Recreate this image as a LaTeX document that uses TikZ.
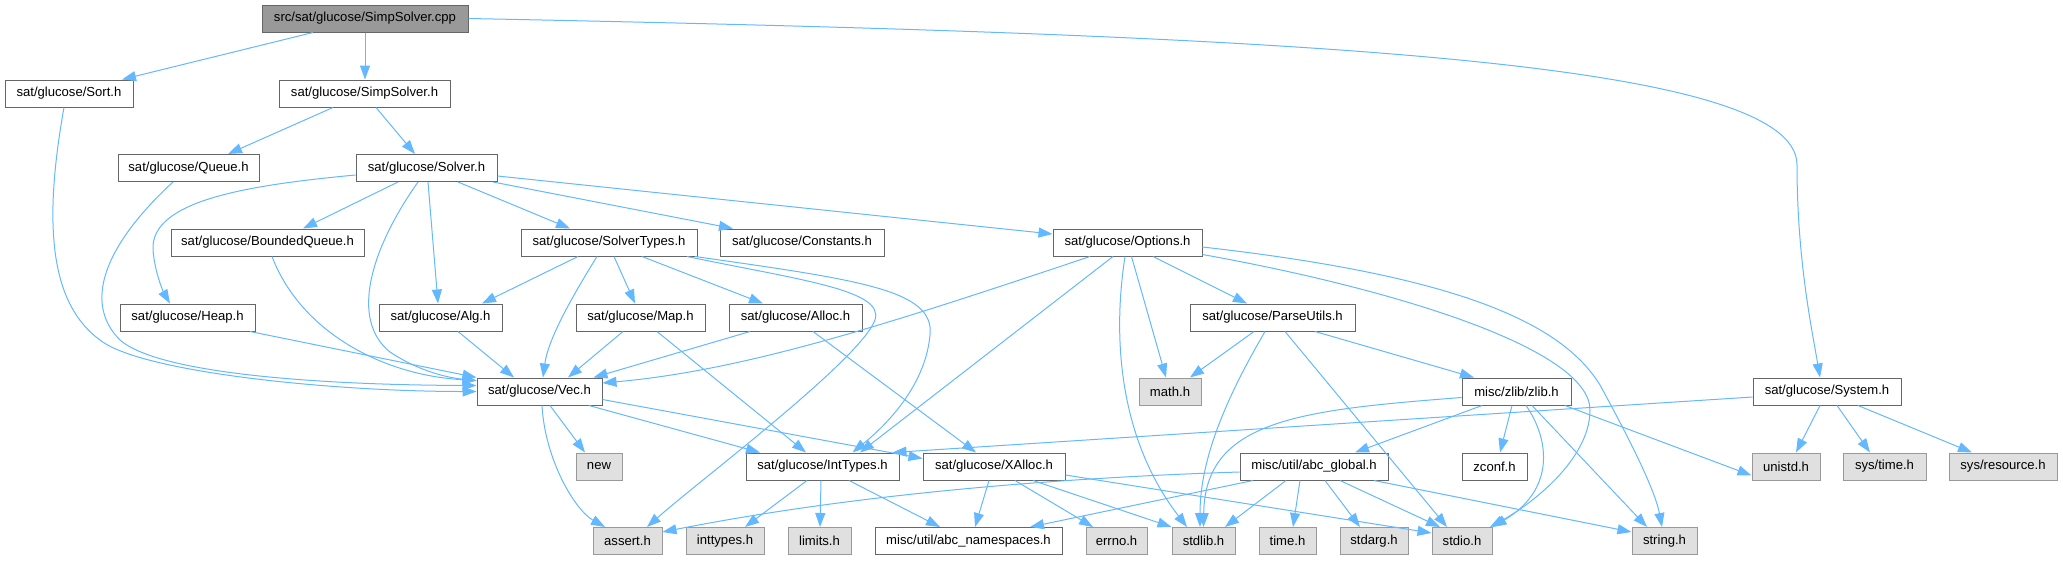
\documentclass[tikz,border=0pt]{standalone}
\usepackage{fontspec}
\setmainfont{Liberation Sans}
\usetikzlibrary{arrows.meta}
\definecolor{edgeblue}{HTML}{63B8FF}
\definecolor{rootfill}{HTML}{999999}
\definecolor{boxline}{HTML}{666666}
\definecolor{extfill}{HTML}{E0E0E0}
\definecolor{extline}{HTML}{999999}
\tikzset{
  box/.style={draw=boxline, fill=white, line width=1pt, rectangle, inner sep=0pt,
    minimum height=27pt, font=\fontsize{13.1pt}{15pt}\selectfont, text=black},
  root/.style={box, fill=rootfill},
  ext/.style={box, draw=extline, fill=extfill},
  edge/.style={draw=edgeblue, line width=1pt, -{Triangle[length=14pt,width=10pt]}}
}
\begin{document}
\begin{tikzpicture}[x=1pt,y=-1pt]
\useasboundingbox (0,0) rectangle (2063,560);
% row 1
\node[root, minimum width=206pt] (cpp) at (365,18.5) {src/sat/glucose/SimpSolver.cpp};
% row 2
\node[box, minimum width=128pt] (sort) at (69,93.5) {sat/glucose/Sort.h};
\node[box, minimum width=171pt] (simph) at (364.5,93.5) {sat/glucose/SimpSolver.h};
% row 3
\node[box, minimum width=141pt] (queue) at (188.5,168) {sat/glucose/Queue.h};
\node[box, minimum width=141pt] (solver) at (426.5,168) {sat/glucose/Solver.h};
% row 4
\node[box, minimum width=193pt] (bq) at (267.5,242.5) {sat/glucose/BoundedQueue.h};
\node[box, minimum width=176pt] (soltypes) at (609,242.5) {sat/glucose/SolverTypes.h};
\node[box, minimum width=164pt] (const) at (802,242.5) {sat/glucose/Constants.h};
\node[box, minimum width=149pt] (options) at (1127.5,242.5) {sat/glucose/Options.h};
% row 5
\node[box, minimum width=135pt] (heap) at (187.5,317.5) {sat/glucose/Heap.h};
\node[box, minimum width=123pt] (alg) at (440.5,317.5) {sat/glucose/Alg.h};
\node[box, minimum width=129pt] (map) at (640.5,317.5) {sat/glucose/Map.h};
\node[box, minimum width=133pt] (alloc) at (795.5,317.5) {sat/glucose/Alloc.h};
\node[box, minimum width=165pt] (parse) at (1272.5,317.5) {sat/glucose/ParseUtils.h};
% row 6
\node[box, minimum width=125pt] (vec) at (539.5,391.5) {sat/glucose/Vec.h};
\node[ext, minimum width=62pt] (math) at (1170,391.5) {math.h};
\node[box, minimum width=109pt] (zlib) at (1516.5,391.5) {misc/zlib/zlib.h};
\node[box, minimum width=148pt] (system) at (1827,391.5) {sat/glucose/System.h};
% row 7
\node[ext, minimum width=46pt] (new) at (599,466.5) {new};
\node[box, minimum width=153pt] (intT) at (822.5,466.5) {sat/glucose/IntTypes.h};
\node[box, minimum width=142pt] (xalloc) at (994,466.5) {sat/glucose/XAlloc.h};
\node[box, minimum width=148pt] (abcglobal) at (1314,466.5) {misc/util/abc\_global.h};
\node[box, minimum width=65pt] (zconf) at (1494.5,466.5) {zconf.h};
\node[ext, minimum width=68pt] (unistd) at (1786,466.5) {unistd.h};
\node[ext, minimum width=83pt] (systime) at (1884.5,466.5) {sys/time.h};
\node[ext, minimum width=108pt] (sysres) at (2003,466.5) {sys/resource.h};
% row 8
\node[ext, minimum width=69pt] (assert) at (627.5,541) {assert.h};
\node[ext, minimum width=78pt] (inttypes) at (725,541) {inttypes.h};
\node[ext, minimum width=63pt] (limits) at (819.5,541) {limits.h};
\node[box, minimum width=187pt] (abcns) at (968.5,541) {misc/util/abc\_namespaces.h};
\node[ext, minimum width=61pt] (errno) at (1116.5,541) {errno.h};
\node[ext, minimum width=63pt] (stdlib) at (1203.5,541) {stdlib.h};
\node[ext, minimum width=57pt] (time) at (1287.5,541) {time.h};
\node[ext, minimum width=68pt] (stdarg) at (1374,541) {stdarg.h};
\node[ext, minimum width=60pt] (stdio) at (1462,541) {stdio.h};
\node[ext, minimum width=65pt] (string) at (1664.5,541) {string.h};

% edges from cpp
\draw[edge] ([xshift=-52pt]cpp.south) -- ([xshift=53pt]sort.north);
\draw[edge] (cpp.south) -- (cpp.south |- simph.north);
\draw[edge] (cpp.east) .. controls (1300,35) and (1797,60) .. (1797,165) .. controls (1797,260) and (1812,330) .. ([xshift=-7pt]system.north);
% sort, simpsolver.h, queue
\draw[edge] ([xshift=-5pt]sort.south) .. controls (42,230) and (52,305) .. (100,340) .. controls (140,372) and (330,391.5) .. (vec.west);
\draw[edge] ([xshift=-31.5pt]simph.south) -- ([xshift=39.5pt]queue.north);
\draw[edge] ([xshift=11.5pt]simph.south) -- ([xshift=-11.5pt]solver.north);
\draw[edge] ([xshift=-15.5pt]queue.south) .. controls (110,240) and (80,300) .. (120,340) .. controls (160,375) and (330,385) .. ([yshift=6pt]vec.west);
% solver
\draw[edge] ([yshift=-7pt]solver.west) .. controls (250,185) and (150,200) .. (153,250) .. controls (155,275) and (165,295) .. ([xshift=-17.5pt]heap.north);
\draw[edge] ([xshift=-8.5pt]solver.south) .. controls (370,250) and (350,320) .. (390,352) .. controls (420,372) and (450,378) .. ([yshift=11pt]vec.west);
\draw[edge] ([xshift=1.5pt]solver.south) -- ([xshift=-2.5pt]alg.north);
\draw[edge] ([yshift=-8pt]solver.east) -- ([yshift=8.5pt]options.west);
\draw[edge] ([xshift=31.5pt]solver.south) -- ([xshift=-39pt]soltypes.north);
\draw[edge] ([xshift=-28.5pt]solver.south) -- ([xshift=35.5pt]bq.north);
\draw[edge] ([xshift=66.5pt]solver.south) -- ([xshift=-69pt]const.north);
% solvertypes
\draw[edge] ([xshift=78pt]soltypes.south) .. controls (800,280) and (885,290) .. (875,320) .. controls (860,360) and (700,480) .. ([xshift=19.5pt]assert.north);
\draw[edge] ([xshift=86pt]soltypes.south) .. controls (860,280) and (935,290) .. (930,335) .. controls (925,390) and (880,430) .. ([xshift=30pt]intT.north);
\draw[edge] ([xshift=-31pt]soltypes.south) -- ([xshift=41.5pt]alg.north);
\draw[edge] ([xshift=5pt]soltypes.south) -- ([xshift=-5.5pt]map.north);
\draw[edge] ([xshift=33pt]soltypes.south) -- ([xshift=-32.5pt]alloc.north);
\draw[edge] ([xshift=-12pt]soltypes.south) .. controls (570,300) and (548,340) .. ([xshift=3.5pt]vec.north);
% map, alloc, alg, heap, bq
\draw[edge] ([xshift=16.5pt]map.south) -- ([xshift=-16.5pt]intT.north);
\draw[edge] ([xshift=-17.5pt]map.south) -- ([xshift=28.5pt]vec.north);
\draw[edge] ([xshift=17.5pt]alloc.south) -- ([xshift=-18pt]xalloc.north);
\draw[edge] ([xshift=-45.5pt]alloc.south) -- ([xshift=54pt]vec.north);
\draw[edge] ([xshift=17.5pt]alg.south) -- ([xshift=-25.5pt]vec.north);
\draw[edge] ([xshift=62.5pt]heap.south) -- (vec.north west);
\draw[edge] ([xshift=4.5pt]bq.south) .. controls (300,330) and (380,375) .. ([yshift=11pt]vec.west);
% vec
\draw[edge] ([xshift=2.5pt]vec.south) .. controls (545,460) and (575,510) .. ([xshift=-22.5pt]assert.north);
\draw[edge] ([xshift=10.5pt]vec.south) -- ([xshift=-14pt]new.north);
\draw[edge] ([xshift=49.5pt]vec.south) -- ([xshift=-62.5pt]intT.north);
\draw[edge] ([yshift=-8pt]vec.east) -- ([yshift=8pt]xalloc.west);
% inttypes
\draw[edge] ([xshift=-15.5pt]intT.south) -- ([xshift=20pt]inttypes.north);
\draw[edge] ([xshift=-1.5pt]intT.south) -- ([xshift=0.5pt]limits.north);
\draw[edge] ([xshift=26.5pt]intT.south) -- ([xshift=-28.5pt]abcns.north);
% xalloc
\draw[edge] ([xshift=-5pt]xalloc.south) -- ([xshift=6.5pt]abcns.north);
\draw[edge] ([xshift=21pt]xalloc.south) -- ([xshift=-23.5pt]errno.north);
\draw[edge] ([xshift=39pt]xalloc.south) -- (stdlib.north west);
\draw[edge] ([yshift=-8.5pt]xalloc.east) -- ([yshift=8pt]stdio.west);
% options
\draw[edge] ([xshift=-37.5pt]options.south) .. controls (900,320) and (750,370) .. ([yshift=8.5pt]vec.east);
\draw[edge] ([xshift=-14.5pt]options.south) -- ([xshift=37.5pt]intT.north);
\draw[edge] ([xshift=-2.5pt]options.south) .. controls (1112,340) and (1120,440) .. ([xshift=-16.5pt]stdlib.north);
\draw[edge] ([xshift=4pt]options.south) -- ([xshift=-4pt]math.north);
\draw[edge] ([xshift=25.5pt]options.south) -- ([xshift=-25.5pt]parse.north);
\draw[edge] ([yshift=-4.5pt]options.east) .. controls (1450,275) and (1560,320) .. (1600,385) .. controls (1630,440) and (1655,490) .. ([xshift=-2.5pt]string.north);
\draw[edge] ([yshift=-12pt]options.east) .. controls (1400,290) and (1590,350) .. (1590,410) .. controls (1590,460) and (1530,505) .. ([xshift=28pt]stdio.north);
% parseutils
\draw[edge] ([xshift=-18.5pt]parse.south) -- ([xshift=20pt]math.north);
\draw[edge] ([xshift=-7.5pt]parse.south) .. controls (1225,400) and (1200,460) .. ([xshift=-3.5pt]stdlib.north);
\draw[edge] ([xshift=12.5pt]parse.south) -- ([xshift=-15pt]stdio.north);
\draw[edge] ([xshift=42.5pt]parse.south) -- ([xshift=-42.5pt]zlib.north);
% zlib
\draw[edge] ([yshift=-6pt]zlib.west) .. controls (1300,410) and (1205,420) .. (stdlib.north);
\draw[edge] ([xshift=-34.5pt]zlib.south) -- ([xshift=41pt]abcglobal.north);
\draw[edge] ([xshift=-4.5pt]zlib.south) -- ([xshift=5.5pt]zconf.north);
\draw[edge] ([xshift=9.5pt]zlib.south) .. controls (1550,440) and (1555,490) .. (stdio.north east);
\draw[edge] ([xshift=15.5pt]zlib.south) -- ([xshift=-17.5pt]string.north);
\draw[edge] ([xshift=48.5pt]zlib.south) -- ([yshift=-9pt]unistd.west);
% abc_global
\draw[edge] ([xshift=-61pt]abcglobal.south) -- ([xshift=61.5pt]abcns.north);
\draw[edge] ([yshift=-5.5pt]abcglobal.west) .. controls (1050,478) and (850,495) .. ([yshift=9pt]assert.east);
\draw[edge] ([xshift=-28pt]abcglobal.south) -- ([xshift=21.5pt]stdlib.north);
\draw[edge] ([xshift=-14pt]abcglobal.south) -- ([xshift=5.5pt]time.north);
\draw[edge] ([xshift=11pt]abcglobal.south) -- ([xshift=-14pt]stdarg.north);
\draw[edge] ([xshift=26pt]abcglobal.south) -- ([xshift=-22pt]stdio.north);
\draw[edge] ([xshift=60pt]abcglobal.south) -- ([yshift=9pt]string.west);
% system
\draw[edge] ([yshift=-5.5pt]system.west) -- ([xshift=70pt]intT.north);
\draw[edge] ([xshift=-7pt]system.south) -- ([xshift=10pt]unistd.north);
\draw[edge] ([xshift=10pt]system.south) -- ([xshift=-14.5pt]systime.north);
\draw[edge] ([xshift=31pt]system.south) -- ([xshift=-31pt]sysres.north);
\end{tikzpicture}
\end{document}
